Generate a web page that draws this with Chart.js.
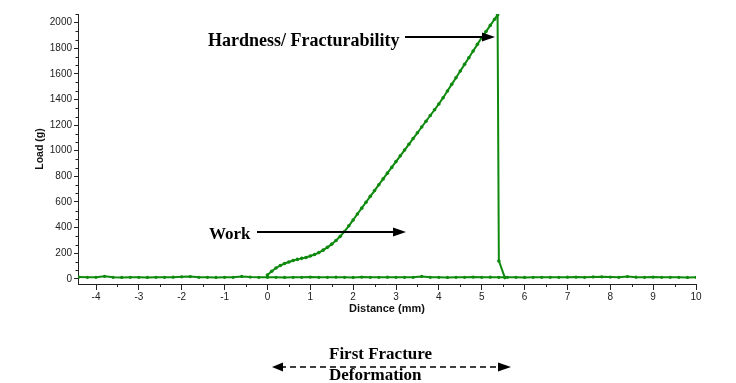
<!DOCTYPE html>
<html>
<head>
<meta charset="utf-8">
<script src="https://cdn.jsdelivr.net/npm/chart.js@4"></script>
<style>
  body { margin: 0; background: #fff; }
  #wrap { width: 736px; height: 383px; }
</style>
</head>
<body>
<div id="wrap"><canvas id="grafico"></canvas></div>
<script>
// baseline trace (probe travelling without load)
const baseX = [-4.4, -4.2, -4.0, -3.8, -3.6, -3.4, -3.2, -3.0, -2.8, -2.6, -2.4, -2.2, -2.0, -1.8, -1.6, -1.4, -1.2, -1.0,
  -0.8, -0.6, -0.4, -0.2, 0.0, 0.2, 0.4, 0.6, 0.8, 1.0, 1.2, 1.4, 1.6, 1.8, 2.0, 2.2, 2.4, 2.6, 2.8, 3.0, 3.2, 3.4, 3.6,
  3.8, 4.0, 4.2, 4.4, 4.6, 4.8, 5.0, 5.2, 5.4, 5.6, 5.8, 6.0, 6.2, 6.4, 6.6, 6.8, 7.0, 7.2, 7.4, 7.6, 7.8, 8.0, 8.2,
  8.4, 8.6, 8.8, 9.0, 9.2, 9.4, 9.6, 9.8, 10.0];
const baseY = [14, 12, 12, 20, 12, 11, 12, 12, 11, 12, 12, 13, 16, 18, 12, 12, 11, 12,
  12, 19, 14, 12, 12, 12, 11, 12, 12, 14, 12, 12, 13, 12, 11, 14, 12, 12, 13, 12, 12, 12, 19,
  12, 12, 11, 12, 12, 14, 12, 13, 12, 12, 12, 11, 12, 12, 12, 12, 13, 14, 12, 15, 16, 14, 12,
  18, 13, 12, 14, 12, 12, 12, 11, 12];

// compression curve up to the first fracture
const curvaX = [0.0, 0.1, 0.2, 0.3, 0.4, 0.5, 0.6, 0.7, 0.8, 0.9, 1.0, 1.1, 1.2, 1.3, 1.4, 1.5, 1.6, 1.7, 1.8, 1.9,
  2.0, 2.1, 2.2, 2.3, 2.4, 2.5, 2.6, 2.7, 2.8, 2.9, 3.0, 3.1, 3.2, 3.3, 3.4, 3.5, 3.6, 3.7, 3.8, 3.9,
  4.0, 4.1, 4.2, 4.3, 4.4, 4.5, 4.6, 4.7, 4.8, 4.9, 5.0, 5.1, 5.2, 5.3, 5.37, 5.40, 5.54];
const curvaY = [30, 60, 85, 104, 120, 132, 143, 152, 160, 167, 178, 190, 205, 224, 246, 271, 299, 332, 370, 414,
  460, 506, 552, 598, 644, 689, 735, 780, 825, 870, 915, 960, 1005, 1050, 1095, 1140, 1185, 1230, 1275, 1320,
  1365, 1414, 1466, 1518, 1570, 1622, 1674, 1726, 1778, 1830, 1883, 1930, 1978, 2026, 2060, 140, 10];

const xTicks = [-4, -3, -2, -1, 0, 1, 2, 3, 4, 5, 6, 7, 8, 9, 10];
const yTicks = [0, 200, 400, 600, 800, 1000, 1200, 1400, 1600, 1800, 2000];

const verde = "#0f8a0f";

function pontos(xs, ys) {
  return xs.map((x, i) => ({ x: x, y: ys[i] }));
}

// minor ticks on both axes + the text annotations
const extras = {
  id: "extras",
  afterDraw(chart) {
    const ctx = chart.ctx;
    const sx = chart.scales.x;
    const sy = chart.scales.y;
    ctx.save();
    ctx.strokeStyle = "#222";
    ctx.lineWidth = 1;
    ctx.beginPath();
    for (let v = -4.5; v <= 10; v += 1) {
      if (v < sx.min) continue;
      const px = Math.round(sx.getPixelForValue(v)) + 0.5;
      ctx.moveTo(px, sx.top);
      ctx.lineTo(px, sx.top + 3);
    }
    for (let k = 0; k <= 31; k++) {
      if (k % 3 == 0) continue;
      const v = k * 200 / 3;
      if (v > sy.max) continue;
      const py = Math.round(sy.getPixelForValue(v)) + 0.5;
      ctx.moveTo(sy.right, py);
      ctx.lineTo(sy.right - 2.5, py);
    }
    ctx.stroke();

    ctx.fillStyle = "#000";
    ctx.strokeStyle = "#000";
    ctx.font = 'bold 18px "Liberation Serif"';
    ctx.fillText("Hardness/ Fracturability", 208, 46);
    ctx.font = 'bold 17px "Liberation Serif"';
    ctx.fillText("Work", 209, 239);
    ctx.fillText("First Fracture", 329, 359);
    ctx.fillText("Deformation", 329, 380);

    seta(ctx, 405, 37, 495, 37, false, false);
    seta(ctx, 257, 232, 406, 232, false, false);
    seta(ctx, 272, 367, 511, 367, true, true);
    ctx.restore();
  },
};

function seta(ctx, x1, y, x2, y2, dupla, tracejada) {
  ctx.lineWidth = tracejada ? 1.5 : 2;
  ctx.setLineDash(tracejada ? [6, 4] : []);
  ctx.beginPath();
  ctx.moveTo(dupla ? x1 + 8 : x1, y);
  ctx.lineTo(x2 - 10, y2);
  ctx.stroke();
  ctx.setLineDash([]);
  ctx.beginPath();
  ctx.moveTo(x2, y2);
  ctx.lineTo(x2 - 13, y2 - 4.5);
  ctx.lineTo(x2 - 13, y2 + 4.5);
  ctx.closePath();
  ctx.fill();
  if (dupla) {
    ctx.beginPath();
    ctx.moveTo(x1, y);
    ctx.lineTo(x1 + 11, y - 4.5);
    ctx.lineTo(x1 + 11, y + 4.5);
    ctx.closePath();
    ctx.fill();
  }
}

const grf = document.getElementById("grafico");

new Chart(grf, {
  type: "scatter",
  data: {
    datasets: [
      {
        label: "base",
        data: pontos(baseX, baseY),
        showLine: true,
        borderColor: verde,
        backgroundColor: verde,
        borderWidth: 2,
        pointRadius: 1.6,
        pointBorderWidth: 0,
      },
      {
        label: "curva",
        data: pontos(curvaX, curvaY),
        showLine: true,
        borderColor: verde,
        backgroundColor: verde,
        borderWidth: 2,
        pointRadius: 1.8,
        pointBorderWidth: 0,
      },
    ],
  },
  options: {
    responsive: true,
    maintainAspectRatio: false,
    animation: false,
    layout: { padding: { top: 14, right: 40, bottom: 65, left: 0 } },
    plugins: {
      legend: { display: false },
      tooltip: { enabled: false },
    },
    scales: {
      x: {
        type: "linear",
        min: -4.42,
        max: 10,
        afterFit: (s) => { s.height = 34; },
        afterBuildTicks: (s) => { s.ticks = xTicks.map((v) => ({ value: v })); },
        ticks: {
          color: "#222",
          font: { family: "Liberation Sans", size: 10 },
          padding: 1,
          maxRotation: 0,
          autoSkip: false,
          callback: (v) => String(v),
        },
        grid: { drawOnChartArea: false, tickLength: 6, tickColor: "#222" },
        border: { color: "#222", width: 1 },
        title: {
          display: true,
          text: "Distance (mm)",
          color: "#111",
          font: { family: "Liberation Sans", size: 11, weight: "bold" },
          padding: { top: 0, bottom: 2 },
        },
      },
      y: {
        min: -40,
        max: 2067,
        afterFit: (s) => { s.width = 78; },
        afterBuildTicks: (s) => { s.ticks = yTicks.map((v) => ({ value: v })); },
        ticks: {
          color: "#222",
          font: { family: "Liberation Sans", size: 10 },
          padding: 2,
          callback: (v) => String(v),
        },
        grid: { drawOnChartArea: false, tickLength: 4, tickColor: "#222" },
        border: { color: "#222", width: 1 },
        title: {
          display: true,
          text: "Load (g)",
          color: "#111",
          font: { family: "Liberation Sans", size: 10.5, weight: "bold" },
          padding: { top: 34, bottom: 0 },
        },
      },
    },
  },
  plugins: [extras],
});
</script>
</body>
</html>
